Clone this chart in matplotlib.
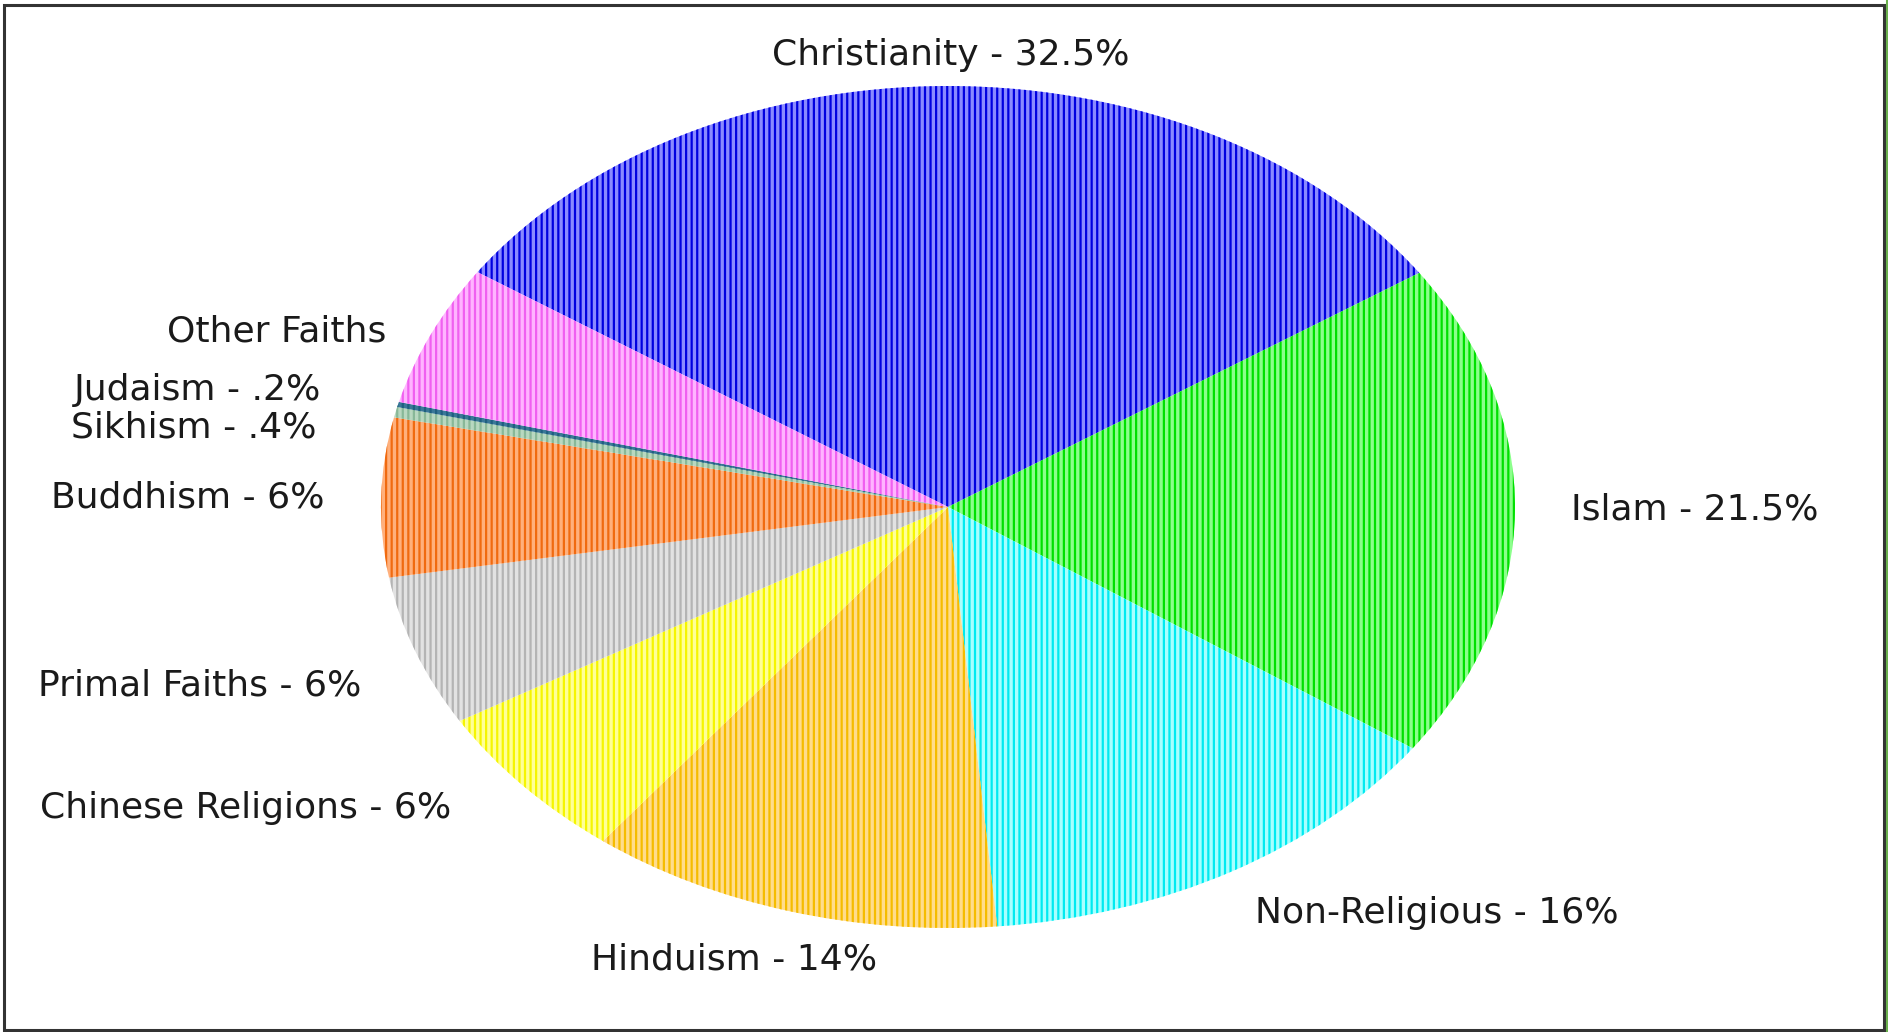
import matplotlib.pyplot as plt
from matplotlib.patches import Rectangle
from matplotlib.lines import Line2D

# slices, clockwise from the top-left edge of Christianity
labels = ["Christianity - 32.5%", "Islam - 21.5%", "Non-Religious - 16%",
          "Hinduism - 14%", "Chinese Religions - 6%", "Primal Faiths - 6%",
          "Buddhism - 6%", "Sikhism - .4%", "Judaism - .2%", "Other Faiths"]
# share of the circle each slice takes in the drawing
shares = [31.2, 19.1, 13.9, 11.8, 6.1, 5.8, 6.1, 0.4, 0.2, 5.4]

stripe_colors = ["#0000e0", "#00e000", "#00eaf0", "#f5bc00", "#f5f500",
                 "#b4b4b4", "#f06a10", "#88b898", "#1f5f80", "#f060f0"]
fill_colors = ["#8a8aff", "#8cff8c", "#a8ffff", "#ffdc8c", "#ffff96",
               "#e2e2e2", "#ffb07c", "#b8d8c0", "#3a7898", "#ffb4ff"]

# label anchors in pixels (x centre, baseline), image is 1888 x 1032
label_x = [951, 1695, 1437, 734, 246, 200, 188, 194, 198, 277]
label_y = [65, 520, 923, 970, 818, 695, 507, 437, 400, 342]

W, H = 1888, 1032
plt.rcParams['hatch.linewidth'] = 1.6

fig = plt.figure(figsize=(W / 100, H / 100), dpi=100)
fig.patch.set_facecolor("white")

# pie is stretched into an ellipse: centre (948, 507), radii 567 x 421 px
cx, cy, rx, ry = 948, 507, 567, 421
ax = fig.add_axes([(cx - rx) / W, (H - cy - ry) / H, 2 * rx / W, 2 * ry / H])
wedges, _ = ax.pie(shares, startangle=146.1, counterclock=False, radius=1)
for w, fc, sc in zip(wedges, fill_colors, stripe_colors):
    w.set_facecolor(fc)
    w.set_edgecolor(sc)
    w.set_linewidth(0)
    w.set_hatch("|||")
ax.set_aspect("auto")
ax.set_xlim(-1, 1)
ax.set_ylim(-1, 1)
ax.axis("off")

for lab, x, y in zip(labels, label_x, label_y):
    fig.text(x / W, 1 - y / H, lab, ha="center", va="baseline",
             fontsize=26, color="#1a1a1a", family="DejaVu Sans")

# frame around the picture
fig.patches.append(Rectangle((4 / W, 2.5 / H), 1879.5 / W, 1024.5 / H,
                             transform=fig.transFigure, fill=False,
                             edgecolor="#333333", linewidth=2.2))
fig.add_artist(Line2D([1887 / W, 1887 / W], [0, 1], transform=fig.transFigure,
                      color="#6ab04c", linewidth=1.5))

fig.savefig("out.png", dpi=100)
